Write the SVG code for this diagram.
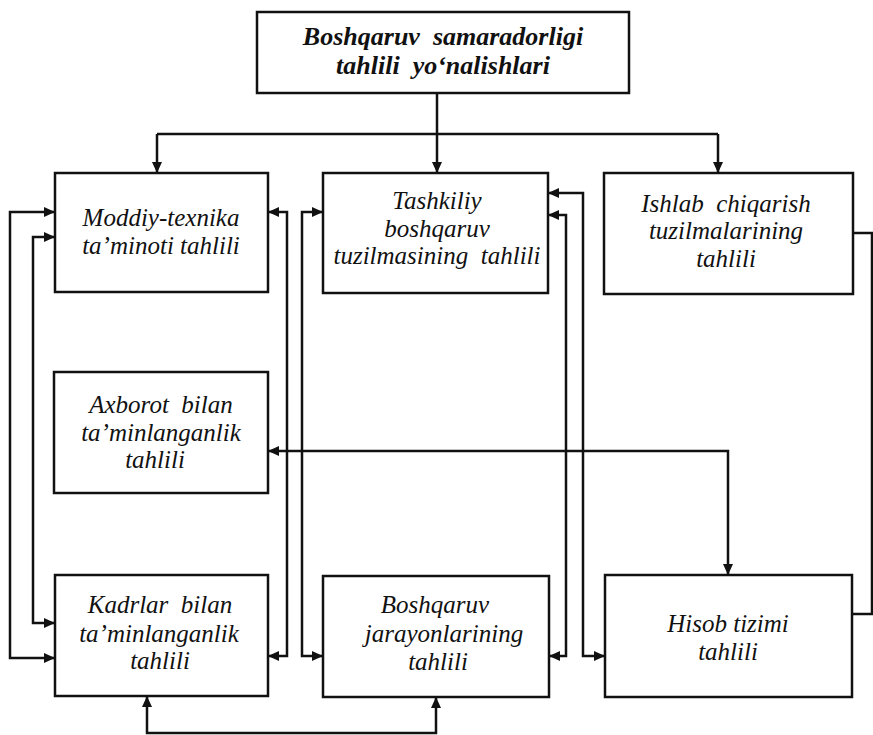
<svg xmlns="http://www.w3.org/2000/svg" width="873" height="735" viewBox="0 0 873 735">
<style>
.box{fill:#fff;stroke:#111;stroke-width:2.5}
.t{font-family:"Liberation Serif","Times New Roman",serif;font-style:italic;font-size:25px;fill:#111;text-anchor:middle}
.tb{font-family:"Liberation Serif","Times New Roman",serif;font-style:italic;font-weight:bold;font-size:26px;fill:#111;text-anchor:middle}
.c{fill:none;stroke:#111;stroke-width:2.5}
.a2{marker-start:url(#as);marker-end:url(#ae)}
.a1{marker-end:url(#ae)}
</style>
<defs>
<marker id="ae" markerUnits="userSpaceOnUse" markerWidth="12" markerHeight="10" refX="11" refY="5" orient="auto"><path d="M0,0 L11,5 L0,10 z" fill="#111"/></marker>
<marker id="as" markerUnits="userSpaceOnUse" markerWidth="12" markerHeight="10" refX="11" refY="5" orient="auto-start-reverse"><path d="M0,0 L11,5 L0,10 z" fill="#111"/></marker>
</defs>
<rect width="873" height="735" fill="#fff"/>
<g id="n-top">
<rect class="box" x="257" y="12" width="372" height="81"/>
<text class="tb" x="443" y="45">Boshqaruv&#160; samaradorligi</text>
<text class="tb" x="443" y="74">tahlili&#160; yo‘nalishlari</text>
</g>
<g id="n-moddiy">
<rect class="box" x="55" y="173" width="213" height="119"/>
<text class="t" x="161" y="226">Moddiy-texnika</text>
<text class="t" x="161" y="254">ta’minoti tahlili</text>
</g>
<g id="n-tashkiliy">
<rect class="box" x="323" y="173" width="225" height="120"/>
<text class="t" x="437" y="209">Tashkiliy</text>
<text class="t" x="437" y="237">boshqaruv</text>
<text class="t" x="437" y="264">tuzilmasining&#160; tahlili</text>
</g>
<g id="n-ishlab">
<rect class="box" x="604" y="173" width="249" height="121"/>
<text class="t" x="726" y="212">Ishlab&#160; chiqarish</text>
<text class="t" x="726" y="239">tuzilmalarining</text>
<text class="t" x="726" y="267">tahlili</text>
</g>
<g id="n-axborot">
<rect class="box" x="54" y="372" width="214" height="121"/>
<text class="t" x="161" y="413">Axborot&#160; bilan</text>
<text class="t" x="161" y="441">ta’minlanganlik</text>
<text class="t" x="155" y="468">tahlili</text>
</g>
<g id="n-kadrlar">
<rect class="box" x="55" y="575" width="213" height="121"/>
<text class="t" x="160" y="613">Kadrlar&#160; bilan</text>
<text class="t" x="159" y="642">ta’minlanganlik</text>
<text class="t" x="160" y="669">tahlili</text>
</g>
<g id="n-jarayon">
<rect class="box" x="323" y="576" width="226" height="121"/>
<text class="t" x="435" y="613">Boshqaruv</text>
<text class="t" x="444" y="642">jarayonlarining</text>
<text class="t" x="438" y="670">tahlili</text>
</g>
<g id="n-hisob">
<rect class="box" x="605" y="575" width="247" height="122"/>
<text class="t" x="728" y="632">Hisob tizimi</text>
<text class="t" x="728" y="660">tahlili</text>
</g>
<g id="connectors">
<path class="c a1" d="M437,93 V173"/>
<path class="c" d="M157,134 H718"/>
<path class="c a1" d="M157,134 V173"/>
<path class="c a1" d="M718,134 V173"/>
<path class="c a2" d="M55,212 H10 V658 H55"/>
<path class="c a2" d="M55,237 H33 V623 H55"/>
<path class="c a2" d="M268,212 H287 V656 H268"/>
<path class="c a2" d="M323,212 H302 V656 H323"/>
<path class="c a2" d="M548,193 H583 V656 H605"/>
<path class="c a2" d="M548,215 H566 V656 H549"/>
<path class="c a2" d="M268,451 H728 V575"/>
<path class="c" d="M853,233 H872 V614 H852"/>
<path class="c a2" d="M147,696 V733 H436 V697"/>
</g>
</svg>
